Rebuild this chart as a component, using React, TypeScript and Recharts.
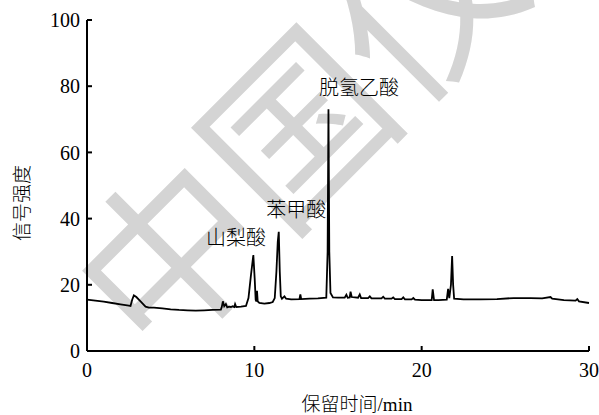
import React from 'react';
import { LineChart, Line, XAxis, YAxis, ReferenceDot } from 'recharts';

// retention time (min) and detector signal
const times = [
  0, 0.5, 1.0, 1.5, 2.0, 2.5, 2.6, 2.7, 2.8, 2.95, 3.2, 3.5, 3.7, 4.0, 4.5, 5.0, 5.5, 6.0, 6.5, 7.0,
  7.5, 8.0, 8.05, 8.12, 8.2, 8.3, 8.38, 8.5, 8.6, 8.7, 8.8, 8.85, 8.92, 9.2, 9.5, 9.65, 9.8, 9.94, 10.02, 10.08,
  10.12, 10.16, 10.2, 10.3, 10.6, 10.9, 11.1, 11.22, 11.32, 11.4, 11.46, 11.52, 11.58, 11.65, 11.8, 11.9, 12.2, 12.7, 12.75, 12.8, 13.3,
  13.8, 14.3, 14.38, 14.43, 14.48, 14.55, 14.7, 15.0, 15.4, 15.5, 15.58, 15.7, 15.75, 15.82, 16.2, 16.3, 16.38, 16.8, 16.9, 17.0,
  17.6, 17.7, 17.8, 18.2, 18.3, 18.4, 18.8, 18.9, 19.0, 19.4, 19.5, 19.6, 20.0, 20.6, 20.66, 20.74, 21.0, 21.5, 21.58, 21.65,
  21.75, 21.82, 21.88, 21.94, 22.5, 23.5, 24.5, 25.5, 26.5, 27.2, 27.7, 27.8, 28.5, 29.2, 29.3, 29.4, 30.0,
];
const signal = [
  15.5, 15.2, 14.9, 14.5, 14.1, 13.7, 13.6, 15.5, 16.8, 16.3, 15.0, 13.4, 13.1, 13.1, 12.9, 12.6, 12.4, 12.3, 12.2, 12.3,
  12.4, 12.5, 13.2, 15.0, 13.5, 14.2, 13.2, 13.4, 13.3, 13.5, 13.3, 14.2, 13.3, 13.4, 13.6, 16, 23, 29, 22, 15.5,
  15.0, 18.2, 15, 14.5, 14.3, 14.5, 14.8, 16, 24, 33, 36, 24, 16.5, 15.8, 16.5, 15.8, 15.6, 15.7, 17.1, 15.7, 15.8,
  15.9, 16.1, 30, 73, 30, 17.5, 16.2, 16.1, 16.1, 17, 16.1, 16.2, 17.9, 16.3, 16.1, 17.1, 16.0, 16.0, 16.5, 15.9,
  15.9, 16.4, 15.8, 15.8, 16.2, 15.7, 15.7, 16.2, 15.6, 15.6, 16.0, 15.5, 15.4, 15.4, 18.6, 15.4, 15.4, 15.5, 18.8, 16,
  20, 28.7, 20, 15.8, 15.6, 15.6, 15.7, 16.0, 16.0, 15.9, 16.3, 15.8, 15.4, 15.2, 15.7, 15.0, 14.5,
];
const xTicks = [0, 10, 20, 30];
const yTicks = [0, 20, 40, 60, 80, 100];
const peaks = [
  { name: '山梨酸', t: 8.9, v: 34.2 },
  { name: '苯甲酸', t: 12.5, v: 42.6 },
  { name: '脱氢乙酸', t: 16.25, v: 79.5 },
];

const data = times.map((t, i) => ({ t, v: signal[i] }));

const serif = '"Liberation Serif", "Times New Roman", "Noto Sans CJK SC", serif';
const cjk = '"Noto Sans CJK SC", sans-serif';

export default function App() {
  return (
    <div style={{ position: 'absolute', left: 0, top: 0, width: 599, height: 415, background: '#fff', fontFamily: serif }}>
      {/* faint watermark behind the plot */}
      <svg width={599} height={415} style={{ position: 'absolute', left: 0, top: 0 }}>
        <text
          x={154}
          y={367}
          transform="rotate(-45 154 367)"
          fontSize={180}
          fontWeight={400}
          fontFamily={cjk}
          fill="#d4d4d4"
        >
          中国仪
        </text>
      </svg>
      <div style={{ position: 'absolute', left: 0, top: 0 }}>
        <LineChart
          width={599}
          height={415}
          data={data}
          margin={{ top: 20, right: 10, left: 27, bottom: 24 }}
          style={{ fontFamily: serif }}
        >
          <XAxis
            dataKey="t"
            type="number"
            domain={[0, 30]}
            ticks={xTicks}
            tickSize={-5}
            tickMargin={17}
            stroke="#000"
            strokeWidth={2}
            height={40}
            tick={{ fill: '#000', fontSize: 20, fontFamily: serif, style: { fontFamily: serif } }}
          />
          <YAxis
            type="number"
            domain={[0, 100]}
            ticks={yTicks}
            tickSize={-5}
            tickMargin={12}
            stroke="#000"
            strokeWidth={2}
            width={60}
            tick={{ fill: '#000', fontSize: 20, fontFamily: serif, style: { fontFamily: serif } }}
          />
          {peaks.map((p) => (
            <ReferenceDot
              key={p.name}
              x={p.t}
              y={p.v}
              r={0}
              stroke="none"
              fill="none"
              label={{ value: p.name, position: 'center', fill: '#000', fontSize: 20, fontFamily: cjk, fontWeight: 300 }}
            />
          ))}
          <Line
            type="linear"
            dataKey="v"
            stroke="#000"
            strokeWidth={1.8}
            dot={false}
            isAnimationActive={false}
          />
        </LineChart>
      </div>
      <svg width={599} height={415} style={{ position: 'absolute', left: 0, top: 0, pointerEvents: 'none' }}>
        <text x={357} y={411} textAnchor="middle" fontSize={19} fontFamily={serif} fontWeight={300} fill="#000">
          保留时间/min
        </text>
        <text
          x={20}
          y={203}
          transform="rotate(-90 20 203)"
          textAnchor="middle"
          dominantBaseline="central"
          fontSize={19}
          fontFamily={cjk}
          fontWeight={300}
          fill="#000"
        >
          信号强度
        </text>
      </svg>
    </div>
  );
}
